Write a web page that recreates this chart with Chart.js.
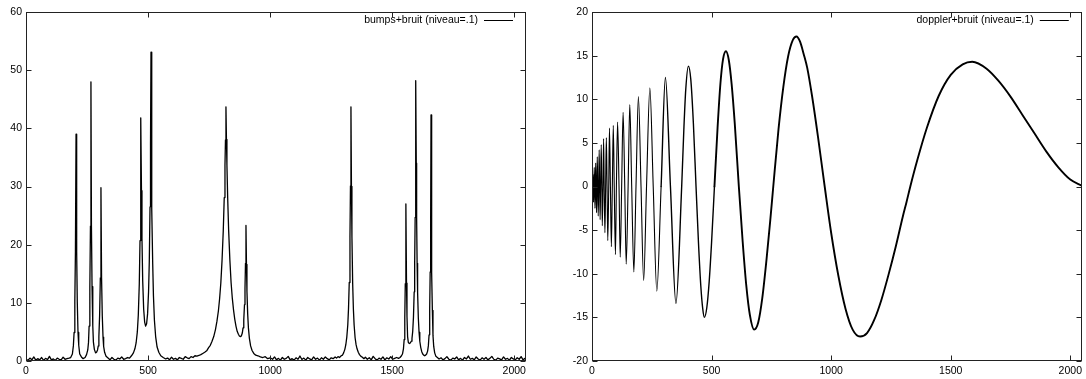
<!DOCTYPE html>
<html>
<head>
<meta charset="utf-8">
<title>bumps + doppler</title>
<script src="https://cdn.jsdelivr.net/npm/chart.js@4.4.1/dist/chart.umd.min.js"></script>
<style>
  html, body { margin: 0; padding: 0; background: #fff; }
  #wrap { position: relative; width: 1086px; height: 379px; overflow: hidden; }
  canvas { position: absolute; top: 0; }
</style>
</head>
<body>
<div id="wrap">
  <canvas id="bumpsChart" width="543" height="379" style="left:0"></canvas>
  <canvas id="dopplerChart" width="543" height="379" style="left:543px"></canvas>
</div>
<script>
/* ---- data ---- */
var xTicks = [0, 500, 1000, 1500, 2000];
var bumpsYTicks = [0, 10, 20, 30, 40, 50, 60];
var dopplerYTicks = [-20, -15, -10, -5, 0, 5, 10, 15, 20];

var bumpsLabel = 'bumps+bruit (niveau=.1)';
var dopplerLabel = 'doppler+bruit (niveau=.1)';

// bumps + noise
var bumpsX = [
  0,8,16,24,32,40,48,56,64,72,80,88,96,104,112,120,128,136,144,152,160,168,
  176,183,190,194,197,200,202.5,205,207.5,210,213,216,220,227,234,
  242,248,253,256,258.5,261.5,264,266,268,270.5,273.5,276,280,285,289,293,296,298.5,301.5,304.5,307,309.5,312.5,315.5,318,322,328,336,344,
  352,360,368,376,384,392,400,
  408,416,424,432,440,446,451,456,460,464,467,469,471,473,475,478,482,486,490,494,498,502,505,508,510,512,514,516,519,522,526,531,537,544,552,562,572,
  580,588,596,604,612,620,628,636,644,652,660,668,676,684,692,700,708,716,724,732,740,748,755,762,769,776,782,788,793,798,803,808,812,815,817,819,
  821,823,826,830,835,840,845,850,855,860,865,870,874,878,882,886,889,892,895,897,899,901,903,905,908,911,915,920,926,933,941,950,960,970,
  980,990,1000,1010,1018,1026,1034,1042,1050,1058,1066,1074,1082,1090,1098,1106,1114,1122,1130,1138,1146,1154,1162,1170,1178,1186,1194,1202,1210,1218,1226,1234,1242,1250,1258,1266,
  1272,1278,1284,1290,1296,1301,1306,1310,1314,1318,1321,1324,1327,1329,1331,1333,1335,1338,1341,1344,1348,1352,1356,1361,1366,1372,1378,1384,
  1390,1398,1406,1414,1422,1430,1438,1446,1454,1462,1470,1478,1486,1494,1502,1510,1518,
  1526,1532,1538,1542,1546,1549,1551.5,1553.5,1556,1558.5,1560.5,1563,1566,1570,1574,1578,1581,1584,1587,1590,1592,1594,1595.5,1597,1598.5,1600,1602,1604,1607,1610,1613,1617,1621,1625,1629,1633,1637,1641,1645,1648,1651,1653.5,1655.5,1657.5,1659,1660.5,1662.5,1664.5,1667,1670,1674,1679,1685,1692,
  1700,1708,1716,1724,1732,1740,1748,1756,1764,1772,1780,1788,1796,1804,1812,1820,1828,1836,1844,1852,1860,1868,1876,1884,1892,1900,1908,1916,1924,1932,1940,1948,1956,1964,1972,1980,1988,1996,2004,2012,2020,2028,2036,2044,2047
];
var bumpsY = [
  .3,.1,.5,.2,.7,.15,.4,.2,.6,.1,.45,.25,.8,.2,.35,.1,.5,.3,.2,.65,.3,.4,
  .5,.6,1.2,2.6,4.9,10.3,18.9,39.0,18.8,10.2,4.9,2.7,1.2,.7,.4,
  .6,1.1,1.9,3.2,6.0,12.7,23.2,48.0,23.3,12.8,6.1,3.3,2.0,1.4,1.5,1.9,2.6,4.2,7.8,14.3,29.8,14.3,7.7,4.1,2.5,1.5,.8,.5,.2,
  .6,.3,.15,.5,.35,.7,.3,
  .4,.6,.5,.9,1.4,2.1,3.1,5.0,7.9,13.2,20.7,29.1,41.8,29.3,21.1,13.8,8.9,6.7,6.0,6.4,8.1,11.9,17.1,26.5,37.1,53.1,37.0,26.2,16.7,11.2,7.0,4.2,2.4,1.5,.9,.6,.35,
  .5,.2,.65,.3,.45,.2,.6,.45,.3,.75,.55,.4,.75,.6,.9,.85,.95,1.1,1.3,1.5,1.75,2.3,2.7,3.4,4.2,5.4,6.8,8.6,10.7,13.4,17.3,22.4,28.1,33.6,38.0,43.7,
  38.1,33.7,28.2,22.5,17.4,13.5,10.8,8.8,7.2,6.0,5.1,4.6,4.3,4.2,4.3,4.8,5.7,7.1,9.7,12.4,16.8,23.3,16.6,12.0,8.1,5.7,3.9,2.6,1.8,1.3,1.0,.9,.7,.6,
  .75,.4,.55,.3,.7,.2,.45,.15,.6,.3,.45,.8,.2,.4,.15,.55,.3,.85,.25,.5,.15,.6,.35,.2,.7,.3,.5,.15,.55,.3,.7,.4,.2,.55,.4,.7,
  .5,.75,.6,.85,1.0,1.4,2.0,2.8,4.1,6.2,9.0,13.5,21.3,30.1,43.7,30.0,21.4,13.4,8.9,6.2,4.0,2.8,2.1,1.5,1.1,.8,.65,.4,
  .65,.3,.55,.2,.8,.4,.15,.5,.3,.7,.2,.55,.35,.75,.3,.45,.6,
  .45,.6,.9,1.2,2.1,3.7,7.4,13.3,27.0,13.4,7.7,4.2,3.2,3.0,3.1,3.4,3.9,5.1,7.5,11.9,16.8,24.7,34.0,48.2,34.0,24.7,16.8,11.8,7.4,4.9,3.4,2.3,1.6,1.2,1.0,.9,1.0,1.2,1.7,2.6,4.5,8.8,15.3,24.4,42.3,24.4,15.2,8.7,4.4,2.5,1.4,.8,.6,.35,
  .55,.2,.4,.75,.3,.15,.5,.35,.7,.2,.45,.15,.6,.35,.85,.3,.45,.2,.7,.35,.15,.55,.3,.6,.2,.45,.8,.3,.15,.5,.35,.2,.7,.3,.45,.15,.6,.35,.2,.55,.3,.75,.2,.45,.3
];

// doppler + noise: zero crossings, extrema and a few points on the wide lobes
var dopplerX = [
  0,1.2,2.5,3.8,5,6.5,8,9.3,11,12.3,14,15.4,17,18.7,20.5,22,24,26,28,30,32,34,36,38.6,41,43,46,48.5,51,54,57,60,63,66,70,73,77,81,85,89,93,98,102,107,113,118,124,130,137,143,151,158,166,175,184,194,205,216,228,242,256,271,289,307,328,351,375,
  384,392,403,413,424,435,
  445,455,463,470,480,490,500,512,
  525,537,548,560,572,584,597,614,
  630,645,660,678,695,712,730,745,758,
  780,800,820,840,855,870,885,900,920,945,973,
  1000,1030,1060,1090,1121,1150,1180,1210,1240,1270,1300,1315,1331,
  1360,1400,1450,1500,1550,1590,1650,1700,1750,1800,1850,1900,1950,2000,2048
];
var dopplerY = [
  0,-0.8,0,1.4,0,-1.8,0,2.2,0,-2.5,0,2.7,0,-3.0,0,3.4,0,-3.4,0,4.2,0,-3.8,0,4.8,0,-4.5,0,5.5,0,-5.3,0,5.6,0,-6.2,0,6.7,0,-6.9,0,7.0,0,-7.8,0,7.4,0,-8.1,0,8.5,0,-8.9,0,9.4,0,-9.8,0,10.3,0,-10.8,0,11.3,0,-12.0,0,12.5,0,-13.4,0,
  6.5,11.1,13.8,12.3,7.2,0,
  -6.3,-11.4,-14.0,-15.0,-13.9,-10.9,-6.4,0,
  6.7,11.8,14.6,15.5,14.5,11.7,7.2,0,
  -6.3,-11.3,-14.7,-16.4,-15.6,-12.8,-8.3,-4.0,0,
  6.6,11.4,14.9,16.8,17.2,16.6,15.2,13.6,10.4,5.7,0,
  -5.3,-10.2,-14.0,-16.4,-17.2,-16.8,-15.3,-13.0,-10.1,-6.9,-3.4,-1.8,0,
  3.0,6.7,10.4,12.8,14.0,14.3,13.5,12.1,10.3,8.2,6.1,4.0,2.2,0.8,0.1
];

/* ---- gnuplot-like frame, inward tics and key ---- */
const FONT_FAMILY = '"Liberation Sans", Arial, sans-serif';
const FONT_SIZE = 10.5;

const gnuFrame = {
  id: 'gnuFrame',
  afterDraw(chart) {
    const ctx = chart.ctx;
    const a = chart.chartArea;
    const sx = chart.scales.x, sy = chart.scales.y;
    const L = Math.round(a.left) + 0.5, R = Math.round(a.right) - 0.5;
    const T = Math.round(a.top) + 0.5, B = Math.round(a.bottom) - 0.5;
    ctx.save();
    ctx.strokeStyle = '#222';
    ctx.lineWidth = 1;
    ctx.strokeRect(L, T, R - L, B - T);
    ctx.beginPath();
    sx.ticks.forEach(t => {
      const px = Math.round(sx.getPixelForValue(t.value)) + 0.5;
      ctx.moveTo(px, B); ctx.lineTo(px, B - 5);
      ctx.moveTo(px, T); ctx.lineTo(px, T + 5);
    });
    sy.ticks.forEach(t => {
      const py = Math.round(sy.getPixelForValue(t.value)) + 0.5;
      ctx.moveTo(L, py); ctx.lineTo(L + 5, py);
      ctx.moveTo(R, py); ctx.lineTo(R - 5, py);
    });
    ctx.stroke();

    // key: text then line sample, top right
    const ky = T + 8;
    ctx.font = FONT_SIZE + 'px ' + FONT_FAMILY;
    ctx.fillStyle = '#000';
    ctx.textAlign = 'right';
    ctx.textBaseline = 'middle';
    ctx.fillText(chart.data.datasets[0].label, a.right - 48, ky);
    ctx.strokeStyle = '#000';
    ctx.beginPath();
    ctx.moveTo(a.right - 42, ky);
    ctx.lineTo(a.right - 13, ky);
    ctx.stroke();
    ctx.restore();
  }
};

// line gets thicker on the wide (noisier looking) doppler lobes
function dopplerWidth(c) {
  const x = c.p0.parsed.x;
  if (x >= 512) return 1.9;
  if (x >= 289) return 1.4;
  return 1.1;
}

function makeChart(id, label, xs, ys, yMin, yMax, yTicks, plotLeft, plotRight, wide) {
  const pts = xs.map((x, i) => ({ x: x, y: ys[i] }));
  return new Chart(document.getElementById(id), {
    type: 'line',
    data: {
      datasets: [{
        label: label,
        data: pts,
        borderColor: '#000',
        borderWidth: wide ? 1.9 : 1.3,
        borderCapStyle: 'round',
        borderJoinStyle: 'round',
        pointRadius: 0,
        tension: 0,
        cubicInterpolationMode: wide ? 'monotone' : 'default',
        segment: wide ? { borderWidth: dopplerWidth } : undefined
      }]
    },
    options: {
      responsive: false,
      animation: false,
      devicePixelRatio: 1,
      layout: { padding: { left: 0, right: 543 - plotRight, top: 12, bottom: 0 } },
      plugins: { legend: { display: false }, tooltip: { enabled: false } },
      scales: {
        x: {
          type: 'linear',
          min: 0,
          max: 2048,
          afterBuildTicks: s => { s.ticks = xTicks.map(v => ({ value: v })); },
          afterFit: s => { s.height = 18; },
          grid: { display: false, drawTicks: false },
          border: { display: false },
          ticks: {
            padding: 4,
            color: '#000',
            font: { family: FONT_FAMILY, size: FONT_SIZE },
            maxRotation: 0,
            callback: v => String(v)
          }
        },
        y: {
          type: 'linear',
          min: yMin,
          max: yMax,
          afterBuildTicks: s => { s.ticks = yTicks.map(v => ({ value: v })); },
          afterFit: s => { s.width = plotLeft; },
          grid: { display: false, drawTicks: false },
          border: { display: false },
          ticks: {
            padding: 4,
            color: '#000',
            font: { family: FONT_FAMILY, size: FONT_SIZE },
            callback: v => String(v)
          }
        }
      }
    },
    plugins: [gnuFrame]
  });
}

makeChart('bumpsChart', bumpsLabel, bumpsX, bumpsY, 0, 60, bumpsYTicks, 26, 526, false);
makeChart('dopplerChart', dopplerLabel, dopplerX, dopplerY, -20, 20, dopplerYTicks, 49, 542, true);
</script>
</body>
</html>
